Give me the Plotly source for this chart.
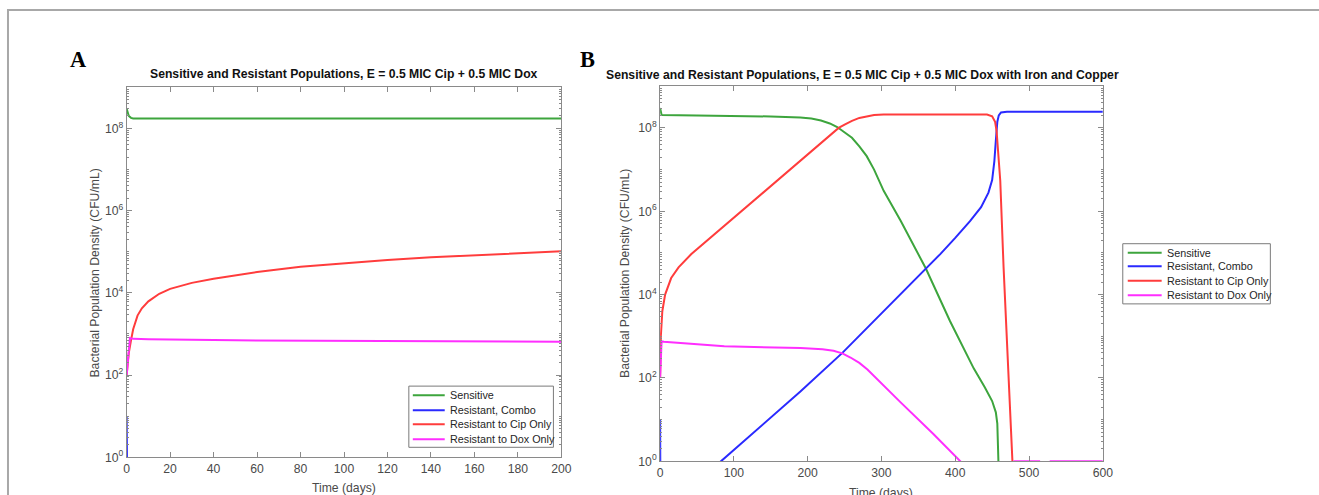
import plotly.graph_objects as go

# ---------------- data ----------------
SERIES = ["Sensitive", "Resistant, Combo", "Resistant to Cip Only", "Resistant to Dox Only"]
COLORS = ["#3da53d", "#2a2aff", "#ff3c3c", "#ff2eff"]

# Panel A : E = 0.5 MIC Cip + 0.5 MIC Dox
a_sens_t = [0, 0.5, 1, 2, 3, 50, 100, 150, 200]
a_sens_v = [3.0e8, 2.4e8, 2.0e8, 1.8e8, 1.75e8, 1.74e8, 1.73e8, 1.73e8, 1.73e8]
a_comb_t = [0, 0.3, 100, 200]
a_comb_v = [10, 0.08, 0.15, 0.3]
a_cip_t = [0, 0.5, 1, 2, 3, 5, 7, 10, 15, 20, 30, 40, 60, 80, 100, 120, 140, 160, 180, 200]
a_cip_v = [100, 200, 350, 700, 1300, 2800, 4200, 6200, 9500, 1.25e4, 1.75e4, 2.2e4,
           3.2e4, 4.3e4, 5.3e4, 6.3e4, 7.3e4, 8.3e4, 9.3e4, 1.03e5]
a_dox_t = [0, 1, 1.5, 3, 10, 50, 100, 150, 200]
a_dox_v = [100, 500, 800, 760, 740, 700, 680, 665, 650]

# Panel B : with Iron and Copper
b_sens_t = [0, 0.5, 1, 2, 50, 100, 150, 190, 205, 218, 230, 240, 250, 260, 270, 280, 290,
            303, 326, 348, 360, 393, 425, 440, 450, 455, 457, 458.5, 460]
b_sens_v = [3.0e8, 2.5e8, 2.2e8, 2.05e8, 2.0e8, 1.95e8, 1.88e8, 1.78e8, 1.68e8, 1.5e8, 1.28e8,
            1.05e8, 8.0e7, 5.8e7, 3.6e7, 2.1e7, 1.0e7, 3.1e6, 5.9e5, 1.1e5, 4.3e4, 2.3e3, 170,
            60, 28, 15, 8, 1, 0.01]
b_comb_t = [0, 0.5, 82.4, 190.5, 247, 300, 360, 380, 400, 420, 435, 445, 450, 453, 455, 457,
            459, 462, 470, 600]
b_comb_v = [10, 0.06, 1, 48, 400, 3500, 4.2e4, 9.5e4, 2.3e5, 5.8e5, 1.26e6, 2.8e6, 5.6e6,
            1.6e7, 5.0e7, 1.4e8, 2.0e8, 2.35e8, 2.45e8, 2.45e8]
b_cip_t = [0, 1, 3, 6.8, 15, 25, 42, 87, 132, 177, 200, 220, 230, 242, 250, 260, 270, 280,
           290, 303, 443, 450, 454, 456, 461, 465.5, 477.5, 480]
b_cip_v = [100, 1000, 4000, 1e4, 2.5e4, 4.5e4, 9.3e4, 4.5e5, 2.1e6, 1.05e7, 2.3e7, 4.7e7,
           6.8e7, 1.0e8, 1.2e8, 1.48e8, 1.74e8, 1.9e8, 2.04e8, 2.1e8, 2.1e8, 1.9e8, 1.4e8,
           8.5e7, 5.4e6, 4.5e4, 1, 0.5]
b_dox_t = [0, 1, 2, 5, 87, 190.5, 220, 235, 247, 258, 270, 281, 300, 326, 370, 407, 410, None,
           479, 515, None, 528, 600]
b_dox_v = [100, 500, 760, 740, 575, 525, 490, 450, 390, 310, 230, 160, 74, 26, 4.6, 1, 0.8,
           None, 1, 1, None, 1, 1]

Y_TICKVALS = [1, 1e2, 1e4, 1e6, 1e8]
Y_TICKTEXT = ["10<sup>0</sup>", "10<sup>2</sup>", "10<sup>4</sup>", "10<sup>6</sup>", "10<sup>8</sup>"]

TITLE_A = "Sensitive and Resistant Populations, E = 0.5 MIC Cip + 0.5 MIC Dox"
TITLE_B = "Sensitive and Resistant Populations, E = 0.5 MIC Cip + 0.5 MIC Dox with Iron and Copper"
Y_TITLE = "Bacterial Population Density (CFU/mL)"
X_TITLE = "Time (days)"

# ---------------- figure ----------------
W, H = 1319, 495          # canvas size
SX, SY = 0.993, 0.983     # correction for the slight shrink seen in the photographed page
def fx(p):
    return (p / SX) / W
def fy(p):
    return 1 - (p / SY) / H

FONT = "Liberation Sans, Arial, sans-serif"
AX_COLOR = "#8a8a8a"
TXT_COLOR = "#4a4a4a"
FS = 12.2

fig = go.Figure()

panel_a = [(a_sens_t, a_sens_v), (a_comb_t, a_comb_v), (a_cip_t, a_cip_v), (a_dox_t, a_dox_v)]
panel_b = [(b_sens_t, b_sens_v), (b_comb_t, b_comb_v), (b_cip_t, b_cip_v), (b_dox_t, b_dox_v)]

for i, (t, v) in enumerate(panel_a):
    fig.add_trace(go.Scatter(x=t, y=v, mode="lines", name=SERIES[i], showlegend=False,
                             line=dict(color=COLORS[i], width=2), xaxis="x", yaxis="y",
                             connectgaps=False))
for i, (t, v) in enumerate(panel_b):
    fig.add_trace(go.Scatter(x=t, y=v, mode="lines", name=SERIES[i], showlegend=False,
                             line=dict(color=COLORS[i], width=2), xaxis="x2", yaxis="y2",
                             connectgaps=False))

def xaxis(domain, rng, dtick, anchor):
    return dict(domain=domain, range=rng, dtick=dtick, tick0=0, anchor=anchor,
                showline=True, linecolor=AX_COLOR, linewidth=1, mirror="ticks",
                ticks="inside", ticklen=5, tickcolor=AX_COLOR, showgrid=False, zeroline=False,
                tickfont=dict(family=FONT, size=FS, color=TXT_COLOR))

def yaxis(domain, anchor):
    return dict(domain=domain, type="log", range=[0, 9], anchor=anchor,
                tickmode="array", tickvals=Y_TICKVALS, ticktext=Y_TICKTEXT,
                showline=True, linecolor=AX_COLOR, linewidth=1, mirror="ticks",
                ticks="inside", ticklen=5, tickcolor=AX_COLOR, showgrid=False, zeroline=False,
                minor=dict(ticks="inside", ticklen=2, tickcolor=AX_COLOR, dtick="D1", showgrid=False),
                tickfont=dict(family=FONT, size=FS, color=TXT_COLOR))

fig.update_layout(
    autosize=True,
    margin=dict(l=0, r=0, t=0, b=0),
    paper_bgcolor="white", plot_bgcolor="white",
    font=dict(family=FONT, color=TXT_COLOR),
    xaxis=xaxis([fx(124), fx(560)], [0, 200], 20, "y"),
    yaxis=yaxis([fy(456), fy(87)], "x"),
    xaxis2=xaxis([fx(659), fx(1103)], [0, 600], 100, "y2"),
    yaxis2=yaxis([fy(460), fy(86)], "x2"),
    showlegend=False,
)

ann = []
shapes = []
ann.append(dict(text="<b>" + TITLE_A + "</b>", x=fx(342), y=fy(74), xref="paper", yref="paper",
                showarrow=False, xanchor="center", yanchor="middle",
                font=dict(family=FONT, size=FS, color="#111111")))
ann.append(dict(text="<b>" + TITLE_B + "</b>", x=fx(862), y=fy(75), xref="paper", yref="paper",
                showarrow=False, xanchor="center", yanchor="middle",
                font=dict(family=FONT, size=FS, color="#111111")))
for lbl, xx in (("A", 75), ("B", 586)):
    ann.append(dict(text="<b>" + lbl + "</b>", x=fx(xx), y=fy(59), xref="paper", yref="paper",
                    showarrow=False, xanchor="center", yanchor="middle",
                    font=dict(family="Liberation Serif, Times New Roman, serif", size=22.4, color="black")))
for xx, yy in ((92, 272), (624, 273)):
    ann.append(dict(text=Y_TITLE, x=fx(xx), y=fy(yy), xref="paper", yref="paper", textangle=-90,
                    showarrow=False, xanchor="center", yanchor="middle",
                    font=dict(family=FONT, size=FS, color=TXT_COLOR)))
for xx, yy in ((342, 487), (881, 492)):
    ann.append(dict(text=X_TITLE, x=fx(xx), y=fy(yy), xref="paper", yref="paper",
                    showarrow=False, xanchor="center", yanchor="middle",
                    font=dict(family=FONT, size=FS, color=TXT_COLOR)))

# legends (box, line samples, labels) for each panel
LEGENDS = [dict(box=(407, 385, 552, 446), rows=(394, 409, 423, 438), lx=(411, 443), tx=446),
           dict(box=(1123, 243, 1271, 303), rows=(252, 265.5, 280, 294.5), lx=(1128, 1162), tx=1165)]
for lg in LEGENDS:
    x0, y0, x1, y1 = lg["box"]
    shapes.append(dict(type="rect", xref="paper", yref="paper", x0=fx(x0), y0=fy(y1), x1=fx(x1),
                       y1=fy(y0), line=dict(color="#7a7a7a", width=1), fillcolor="white", layer="above"))
    for i, ry in enumerate(lg["rows"]):
        shapes.append(dict(type="line", xref="paper", yref="paper", x0=fx(lg["lx"][0]), x1=fx(lg["lx"][1]),
                           y0=fy(ry), y1=fy(ry), line=dict(color=COLORS[i], width=2), layer="above"))
        ann.append(dict(text=SERIES[i], x=fx(lg["tx"]), y=fy(ry), xref="paper", yref="paper",
                        showarrow=False, xanchor="left", yanchor="middle",
                        font=dict(family=FONT, size=10.8, color="#262626")))

# outer grey frame (top and left edges visible)
shapes.append(dict(type="rect", xref="paper", yref="paper", x0=fx(5), y0=-0.2, x1=1.2, y1=fy(10),
                   line=dict(color="#a8a8a8", width=2), fillcolor="rgba(0,0,0,0)", layer="below"))

fig.update_layout(annotations=ann, shapes=shapes)

# the graph div is pinned to the top-left corner of the page at exactly W x H pixels
DIV_W = "%dpx;position:fixed;left:0px;top:0px;margin:0px" % W
DIV_H = "%dpx" % H
fig.write_html("out.html", default_width=DIV_W, default_height=DIV_H,
               config={"displayModeBar": False})
